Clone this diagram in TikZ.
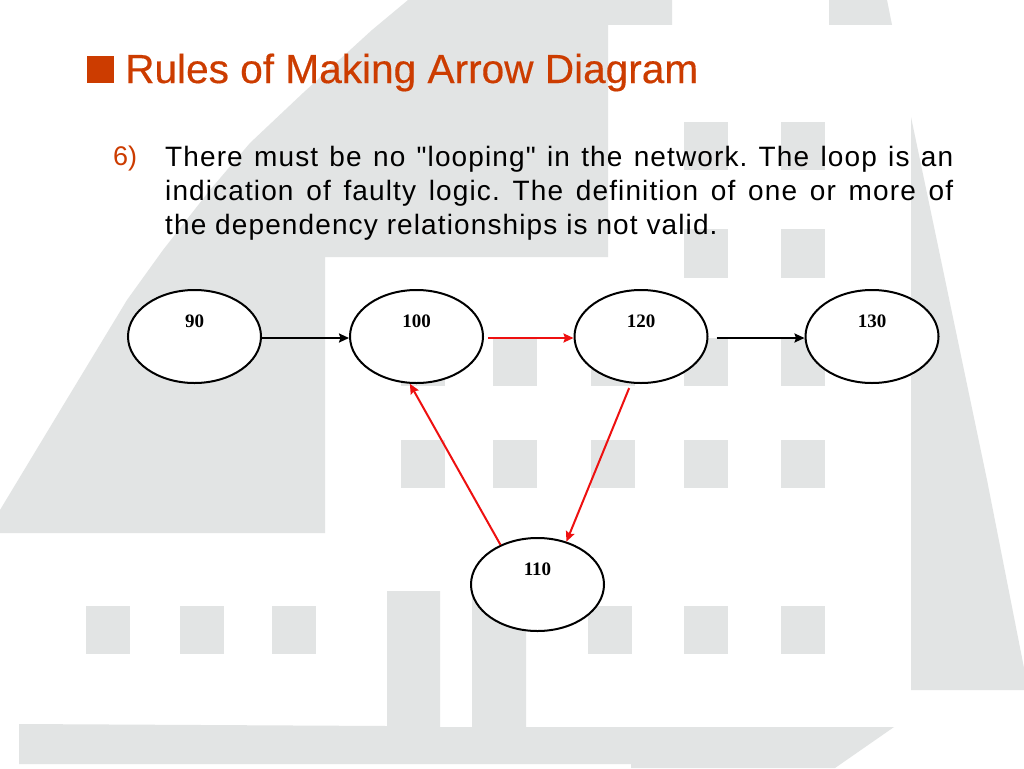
\documentclass[tikz,border=0pt]{standalone}
\usepackage{fontspec}
\setmainfont{Liberation Sans}
\newfontfamily\labelfont{Liberation Serif}
\newfontfamily\rulefont[LetterSpace=4]{Liberation Sans}
\newfontfamily\titlefont[FakeBold=0.4]{Liberation Sans}
\usepackage{xcolor}
\usetikzlibrary{arrows.meta, positioning, shapes.geometric}
\definecolor{wallgrey}{RGB}{226,228,228}
\definecolor{titlered}{RGB}{204,60,0}
\definecolor{looped}{RGB}{238,16,16}
\newcommand{\eventlabel}[1]{\raisebox{9.5pt}[0pt][0pt]{#1}}

\begin{document}
\begin{tikzpicture}[x=1pt,y=-1pt,node distance=222pt,>={Stealth[length=10pt,width=9pt,inset=1.5pt]}]
  \tikzstyle{every node}=[inner sep=0pt]
  \tikzstyle{event}=[ellipse,draw=black,line width=2pt,fill=white,minimum width=133pt,minimum height=93pt,font=\labelfont\fontsize{19}{21}\selectfont\bfseries]
  \tikzstyle{wall}=[fill=wallgrey,draw=none]
  \tikzstyle{link}=[->,line width=2pt]
  \tikzstyle{looplink}=[link,draw=looped]

  \useasboundingbox (0,0) rectangle (1024,768);
  \fill[white] (0,0) rectangle (1024,768);

  % background
  \fill[wall] (0,533) -- (0,510) -- (64,404) -- (127,300) -- (163,250) -- (210,190) -- (250,143) -- (303,93) -- (372,30) -- (408,0) -- (672,0) -- (672,25) -- (608,25) -- (608,257) -- (325,257) -- (325,533) -- cycle;
  \fill[wall] (829,0) -- (887,0) -- (892,25) -- (829,25) -- cycle;
  \fill[wall] (911,117) -- (987,480) -- (1024,668) -- (1024,690) -- (911,690) -- cycle;
  \fill[wall] (19,724) -- (387,726) -- (387,591) -- (440,591) -- (440,727) -- (472,727) -- (472,591) -- (526,591) -- (526,727) -- (894,727) -- (835,768) -- (631,768) -- (631,764) -- (19,764) -- cycle;
  \foreach \xpos in {684,781} {
    \fill[wall] (\xpos,122) rectangle +(44,48);
    \fill[wall] (\xpos,229) rectangle +(44,49);
  }
  \foreach \ypos in {338,440} {
    \foreach \xpos in {401,493,591,684,781} {
      \fill[wall] (\xpos,\ypos) rectangle +(44,48);
    }
  }
  \foreach \xpos in {86,180,272,588,684,781} {
    \fill[wall] (\xpos,606) rectangle +(44,48);
  }

  % heading
  \fill[titlered] (87,56) rectangle (114,83);
  \node[anchor=base west,text=titlered,font=\titlefont\fontsize{40.6}{44}\selectfont] (title) at (125,83) {Rules of Making Arrow Diagram};
  \node[anchor=base west,text=titlered,font=\fontsize{27}{30}\selectfont] (number) at (113,165) {6)};
  \node[anchor=base west,text width=788pt,align=justify,font=\rulefont\fontsize{28}{34}\selectfont] (rule) at (165,166) {\frenchspacing There must be no "looping" in the network. The loop is an\linebreak indication of faulty logic. The definition of one or more of\linebreak the dependency relationships is not valid.};

  % events
  \node[event]                            (n90)  at (194.5,336.5) {\eventlabel{90}};
  \node[event]                            (n100) [right of=n90]   {\eventlabel{100}};
  \node[event]                            (n120) [right of=n100,node distance=224.5pt] {\eventlabel{120}};
  \node[event]                            (n130) [right of=n120,node distance=231pt]   {\eventlabel{130}};
  \node[event]                            (n110) at (537.5,584.5) {\eventlabel{110}};

  \path
  ([yshift=-1.5pt]n90.east) edge [link] ([yshift=-1.5pt]n100.west)
  ([yshift=-1.5pt]n120.east) edge [link,shorten <=8pt] ([yshift=-1.5pt]n130.west)
  ([yshift=-1.5pt]n100.east) edge [looplink,shorten <=4pt] ([yshift=-1.5pt]n120.west)
  (n120.258) edge [looplink,shorten <=5pt] (n110.56)
  (n110.133) edge [looplink] (n100.262)
  ;
\end{tikzpicture}
\end{document}
